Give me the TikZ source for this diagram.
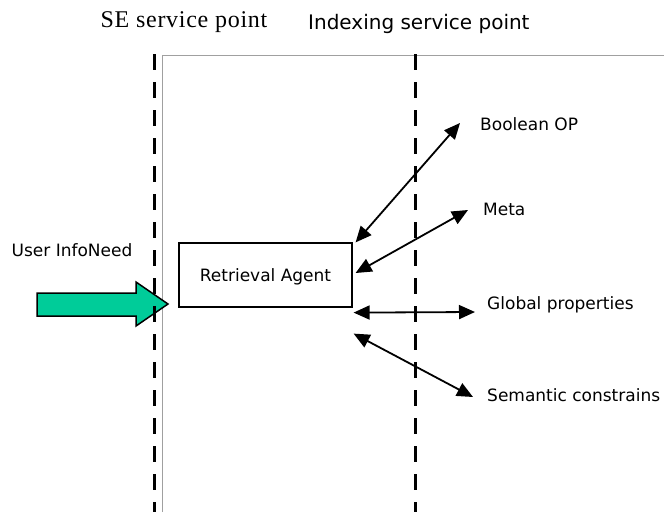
\documentclass[tikz,border=0pt]{standalone}
\usepackage{fontspec}
\setmainfont{DejaVu Sans}
\newfontfamily\serviceserif[LetterSpace=3]{Liberation Serif}
\usetikzlibrary{arrows.meta, positioning}
\definecolor{infogreen}{HTML}{00CC99}
\definecolor{framegray}{HTML}{A0A0A0}

\begin{document}
\begin{tikzpicture}[x=1pt,y=-1pt,
  txt/.style={font=\fontsize{17}{20}\selectfont,inner sep=0pt},
  border/.style={line width=3pt,dash pattern=on 16pt off 12pt},
  link/.style={{Triangle[length=16pt,width=14pt]}-{Triangle[length=16pt,width=14pt]},
               line width=1.8pt},
  infoarrow/.style={fill=infogreen,draw=black,line width=1.5pt,line join=miter}]
\useasboundingbox (0,0) rectangle (664,512);
\draw[framegray,line width=1pt] (162,512) |- (664,55);
\draw[infoarrow] (37,293) -- (136,293) -- (136,282) -- (168,304)
  -- (136,326) -- (136,316) -- (37,316) -- cycle;
\draw[border] (154,54) -- (154,512);
\draw[border] (415,54) -- (415,512);
\node[font=\serviceserif\fontsize{24}{28}\selectfont,inner sep=0pt,anchor=base] (se) at (184,27) {SE service point};
\node[font=\fontsize{20}{24}\selectfont,inner sep=0pt,anchor=base west] (idx) at (308,29) {Indexing service point};
\node[txt,anchor=base] (user) at (72,256) {User InfoNeed};
\node[txt,draw,line width=1.2pt,minimum width=173pt,minimum height=64pt,
      text height=12pt,text depth=0pt] (agent) at (265.5,275) {Retrieval Agent};
\node[txt,anchor=base west] (bool) at (480,130) {Boolean OP};
\node[txt,anchor=base west] (meta) at (483,215) {Meta};
\node[txt,anchor=base west] (glob) at (487,309) {Global properties};
\node[txt,anchor=base west] (sem) at (487,401) {Semantic constrains};
\coordinate (boolend) at (460,123);
\coordinate (metaend) at (468,210);
\coordinate (globend) at (475,312);
\coordinate (semend) at (473,397);
\draw[link] ([xshift=3pt]agent.north east) -- (boolend);
\draw[link] ([xshift=3pt,yshift=2pt]agent.east) -- (metaend);
\draw[link] ([xshift=1pt,yshift=-5pt]agent.south east) -- (globend);
\draw[link] ([xshift=1pt,yshift=-26pt]agent.south east) -- (semend);
\end{tikzpicture}
\end{document}
